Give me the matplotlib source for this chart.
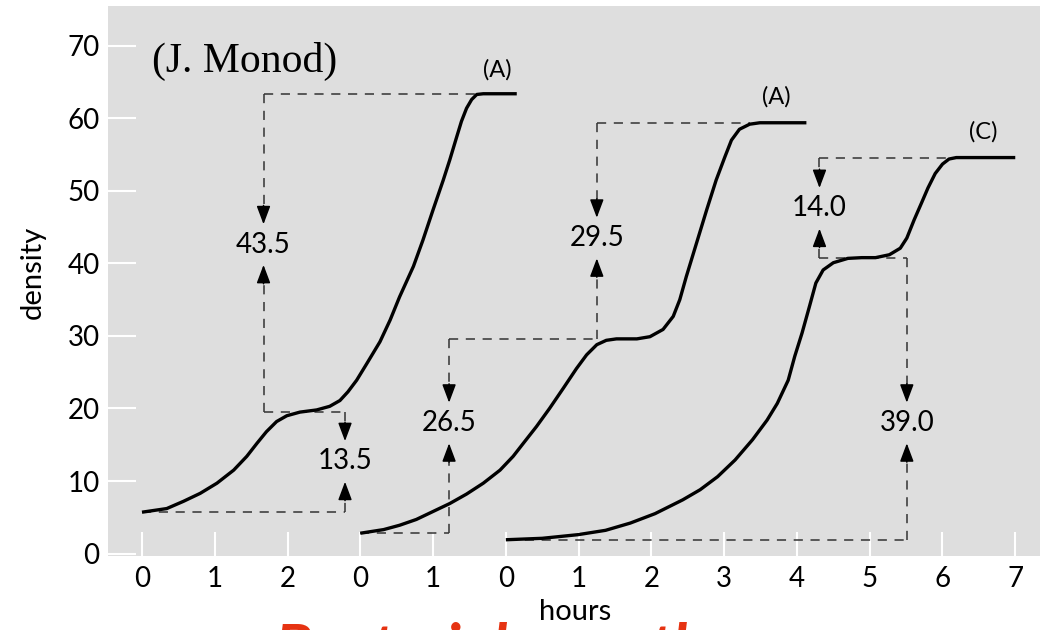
"""
Diauxic growth curves (J. Monod) redrawn with matplotlib.
"""

import matplotlib

matplotlib.use("Agg")
import matplotlib.pyplot as plt

# shared x axis: three panels laid side by side
tick_pos = list(range(13))
tick_labels = ["0", "1", "2", "0", "1", "0", "1", "2", "3", "4", "5", "6", "7"]
y_ticks = [0, 10, 20, 30, 40, 50, 60, 70]

# curve 1 (A), starts at panel position 0
c1_offset = 0
c1_hours = [0, 0.34, 0.57, 0.80, 1.03, 1.26, 1.44, 1.58, 1.71, 1.85, 1.99, 2.17,
            2.40, 2.58, 2.72, 2.83, 2.95, 3.09, 3.27, 3.41, 3.54, 3.73, 3.86,
            4.00, 4.14, 4.23, 4.32, 4.39, 4.46, 4.53, 4.60, 4.69, 5.15]
c1_density = [5.7, 6.2, 7.2, 8.3, 9.7, 11.5, 13.4, 15.2, 16.8, 18.2, 19.0, 19.5,
              19.8, 20.3, 21.1, 22.3, 23.9, 26.2, 29.2, 32.2, 35.4, 39.6, 43.2,
              47.4, 51.5, 54.3, 57.3, 59.6, 61.4, 62.6, 63.3, 63.4, 63.4]

# curve 2 (A), starts at panel position 3
c2_offset = 3
c2_hours = [0, 0.32, 0.54, 0.77, 1.00, 1.23, 1.46, 1.69, 1.92, 2.10, 2.24, 2.42,
            2.60, 2.79, 2.97, 3.11, 3.25, 3.38, 3.52, 3.80, 3.98, 4.16, 4.30,
            4.39, 4.48, 4.62, 4.76, 4.89, 5.01, 5.10, 5.21, 5.35, 5.49, 6.13]
c2_density = [2.8, 3.3, 3.9, 4.7, 5.8, 6.9, 8.2, 9.7, 11.5, 13.4, 15.2, 17.5,
              20.0, 22.8, 25.5, 27.4, 28.8, 29.4, 29.6, 29.6, 29.9, 30.9, 32.7,
              35.0, 38.2, 42.8, 47.4, 51.5, 54.7, 57.0, 58.5, 59.2, 59.4, 59.4]

# curve 3 (C), starts at panel position 5
c3_offset = 5
c3_hours = [0, 0.50, 0.99, 1.37, 1.71, 2.05, 2.43, 2.67, 2.91, 3.15, 3.39, 3.59,
            3.73, 3.88, 3.97, 4.07, 4.17, 4.26, 4.36, 4.50, 4.70, 4.89, 5.08,
            5.27, 5.42, 5.51, 5.61, 5.71, 5.80, 5.90, 6.00, 6.09, 6.19, 7.00]
c3_density = [1.9, 2.1, 2.6, 3.2, 4.2, 5.5, 7.4, 8.8, 10.6, 12.9, 15.7, 18.4,
              20.7, 23.9, 27.2, 30.4, 34.0, 37.3, 39.1, 40.1, 40.7, 40.8, 40.8,
              41.2, 42.1, 43.5, 46.0, 48.3, 50.4, 52.4, 53.7, 54.4, 54.6, 54.6]

# dashed guide lines: (x start, x end, level)
guides_h = [
    (0.0, 2.79, 5.7), (1.67, 2.79, 19.5), (1.67, 4.60, 63.4),
    (3.0, 4.22, 2.9), (4.22, 6.25, 29.6), (6.25, 8.35, 59.4),
    (5.03, 10.51, 1.9), (9.31, 10.51, 40.8), (9.31, 11.19, 54.6),
]
# yield increments: x, low, high, label, label height
measures_x = [2.79, 1.67, 4.22, 6.25, 10.51, 9.31]
measures_lo = [5.7, 19.5, 2.9, 29.6, 1.9, 40.8]
measures_hi = [19.5, 63.4, 29.6, 59.4, 40.8, 54.6]
measures_txt = ["13.5", "43.5", "26.5", "29.5", "39.0", "14.0"]
measures_ty = [12.7, 42.6, 18.0, 43.5, 18.0, 47.6]

curve_tags = ["(A)", "(A)", "(C)"]
tag_x = [4.88, 8.72, 11.56]
tag_y = [66.7, 63.0, 58.2]

SANS = "Lato"
BG = "#dedede"

fig = plt.figure(figsize=(10.46, 6.3), dpi=100)
ax = fig.add_axes([108 / 1046, 1 - 556 / 630, 932 / 1046, 550 / 630])
ax.set_facecolor(BG)
for s in ax.spines.values():
    s.set_visible(False)

for off, hrs, dens in [(c1_offset, c1_hours, c1_density),
                       (c2_offset, c2_hours, c2_density),
                       (c3_offset, c3_hours, c3_density)]:
    ax.plot([off + h for h in hrs], dens, color="black", lw=2.4,
            solid_joinstyle="round", solid_capstyle="butt", zorder=3)

dash = dict(color="#333333", lw=1.1, linestyle=(0, (6, 5)), zorder=2)
for x0, x1, lev in guides_h:
    ax.plot([x0, x1], [lev, lev], **dash)

gap = 2.8
stem = 2.6
for x, lo, hi, txt, ty in zip(measures_x, measures_lo, measures_hi,
                              measures_txt, measures_ty):
    up_tip = ty - gap
    dn_tip = ty + gap
    ax.plot([x, x], [lo, up_tip - stem], **dash)
    ax.plot([x, x], [hi, dn_tip + stem], **dash)
    for tip, base in [(up_tip, up_tip - stem), (dn_tip, dn_tip + stem)]:
        ax.annotate("", xy=(x, tip), xytext=(x, base),
                    arrowprops=dict(arrowstyle="-|>,head_length=0.8,head_width=0.3",
                                    color="black", lw=1.1, shrinkA=0, shrinkB=0,
                                    mutation_scale=14),
                    zorder=4)
    ax.text(x, ty, txt, ha="center", va="center", fontsize=20, family=SANS)

for t, x, y in zip(curve_tags, tag_x, tag_y):
    ax.text(x, y, t, ha="center", va="center", fontsize=17, family=SANS)

ax.text(0.14, 67.8, "(J. Monod)", ha="left", va="center", fontsize=30,
        family="Liberation Serif")

ax.set_xlim(-0.467, 12.34)
ax.set_ylim(-0.34, 75.5)
ax.set_xticks(tick_pos)
ax.set_xticklabels(tick_labels)
ax.set_yticks(y_ticks)
ax.tick_params(axis="both", direction="in", color="white", width=1.5,
               labelsize=20)
ax.tick_params(axis="x", length=17, pad=7)
ax.tick_params(axis="y", length=20, pad=6)
for lab in ax.get_xticklabels() + ax.get_yticklabels():
    lab.set_family(SANS)

fig.text(33 / 1046, 1 - 272 / 630, "density", rotation=90, ha="center",
         va="center", fontsize=21, family=SANS)
fig.text(575 / 1046, 1 - 612 / 630, "hours", ha="center", va="center",
         fontsize=21, family=SANS)
fig.text(275 / 1046, 1 - 621 / 630, "Bacterial growth", ha="left", va="top",
         fontsize=44, color="#e63312", fontweight="bold", style="italic",
         family=SANS)

fig.savefig("out.png", dpi=100)
